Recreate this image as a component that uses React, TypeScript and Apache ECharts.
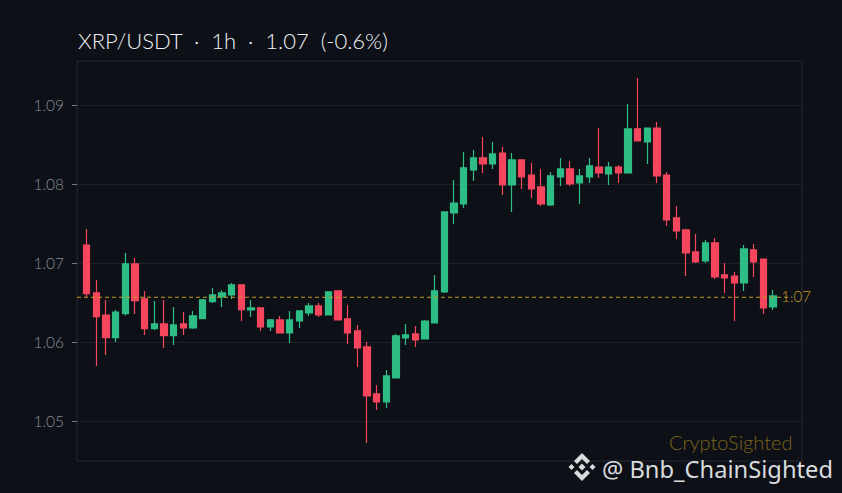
import React, { useEffect, useRef } from "react";
import * as echarts from "echarts";

// open, close, low, high — one row per hourly candle
const candles: number[][] = [
  [1.07231,1.06616,1.0657,1.07434],[1.06625,1.06325,1.05702,1.06789],[1.06346,1.06059,1.05841,1.06536],[1.06059,1.06384,1.06005,1.0641],
  [1.06363,1.06991,1.06338,1.0713],[1.06991,1.06527,1.06359,1.07067],[1.06549,1.06173,1.06094,1.0665],[1.06173,1.06233,1.06157,1.06523],
  [1.06233,1.06085,1.05929,1.06536],[1.06085,1.0622,1.05967,1.06448],[1.06233,1.06182,1.06094,1.06384],[1.06182,1.06334,1.06173,1.06397],
  [1.063,1.06536,1.06292,1.06549],[1.06515,1.06599,1.06498,1.06688],[1.06574,1.06625,1.06448,1.06662],[1.06599,1.06726,1.06549,1.06751],
  [1.06726,1.06413,1.0627,1.06726],[1.0641,1.06435,1.06321,1.06536],[1.06435,1.06195,1.06144,1.06435],[1.06195,1.06283,1.06144,1.06296],
  [1.06283,1.06119,1.06115,1.06334],[1.06119,1.06283,1.05992,1.06397],[1.0627,1.06397,1.06182,1.06397],[1.06372,1.0646,1.06334,1.06498],
  [1.0646,1.06346,1.06321,1.06498],[1.06346,1.06637,1.06338,1.06637],[1.0665,1.06283,1.06279,1.0665],[1.06296,1.06119,1.0598,1.06473],
  [1.06144,1.05929,1.05689,1.0622],[1.05942,1.05322,1.04728,1.06005],[1.05348,1.05247,1.05145,1.05461],[1.05247,1.05575,1.05171,1.05651],
  [1.0555,1.06081,1.0555,1.06106],[1.06056,1.06094,1.05967,1.06233],[1.06106,1.0603,1.05942,1.06207],[1.06043,1.0627,1.06039,1.06283],
  [1.06245,1.0665,1.06241,1.06852],[1.06637,1.07649,1.06625,1.07649],[1.07636,1.07762,1.07497,1.08053],[1.0775,1.08205,1.07699,1.08407],
  [1.08179,1.08331,1.0804,1.08432],[1.08331,1.08255,1.08142,1.08597],[1.08255,1.08382,1.08192,1.08533],[1.08394,1.0799,1.07863,1.0847],
  [1.0799,1.08306,1.07649,1.08394],[1.08306,1.08091,1.07939,1.08306],[1.08116,1.07939,1.07825,1.08268],[1.07965,1.0775,1.07724,1.08192],
  [1.07737,1.08104,1.07724,1.08154],[1.08091,1.08192,1.07977,1.08331],[1.08192,1.08002,1.07977,1.08293],[1.08015,1.08104,1.0775,1.08192],
  [1.08091,1.0823,1.08015,1.08331],[1.08217,1.08142,1.08078,1.0871],[1.08129,1.08217,1.0799,1.08281],[1.08217,1.08142,1.08015,1.08243],
  [1.08142,1.08698,1.08142,1.09014],[1.08698,1.08546,1.08546,1.09343],[1.08533,1.0871,1.08255,1.0871],[1.0871,1.08104,1.08015,1.08786],
  [1.08116,1.07547,1.07472,1.08154],[1.07573,1.07408,1.07307,1.07724],[1.07421,1.0713,1.06839,1.07434],[1.07143,1.07016,1.07004,1.0737],
  [1.07029,1.07257,1.07004,1.07295],[1.07257,1.06827,1.06801,1.0732],[1.06852,1.06814,1.06625,1.07004],[1.06839,1.06751,1.0627,1.0689],
  [1.06751,1.07181,1.0665,1.07231],[1.07168,1.07016,1.06827,1.07244],[1.07054,1.06435,1.06359,1.07054],[1.06448,1.06587,1.0641,1.06662],
];
const yTicks = [1.05, 1.06, 1.07, 1.08, 1.09];
const lastPrice = 1.0657;
const lastPriceLabel = "1.07";
const titleText = "XRP/USDT  ·  1h  ·  1.07  (-0.6%)";
const watermark = "CryptoSighted";
const credit = "@ Bnb_ChainSighted";

const BG = "#0d1017";
const UP = "#2ebd85";
const DOWN = "#f6465d";
const FONT = "Lato";

const LOGO =
  "M14 0L22 8L19 11L14 6L9 11L6 8Z M14 28L22 20L19 17L14 22L9 17L6 20Z " +
  "M0.5 14L3.5 11L6.5 14L3.5 17Z M27.5 14L24.5 11L21.5 14L24.5 17Z M14 10.5L17.5 14L14 17.5L10.5 14Z";
echarts.graphic.registerShape("bnbLogo", echarts.graphic.extendPath(LOGO, {}) as any);

export default function App() {
  const ref = useRef<HTMLDivElement>(null);
  useEffect(() => {
    document.body.style.margin = "0";
    document.body.style.background = BG;
    const chart = echarts.init(ref.current!, undefined, { renderer: "svg" });
    const blank = ["-", "-", "-", "-"];
    const slots = [blank, ...candles, blank, blank, blank];
    const categories = slots.map((_, i) => String(i));
    chart.setOption({
      animation: false,
      backgroundColor: BG,
      title: {
        text: titleText,
        left: 73,
        top: 24,
        textStyle: { color: "#f0f2f5", fontSize: 22, fontWeight: 300, fontFamily: FONT },
      },
      grid: { left: 77, right: 40, top: 61, bottom: 32, show: true, borderColor: "#252932", borderWidth: 1, backgroundColor: "transparent" },
      xAxis: {
        type: "category",
        data: categories,
        boundaryGap: false,
        axisLine: { show: false },
        axisTick: { show: false },
        axisLabel: { show: false },
        splitLine: { show: false },
      },
      yAxis: {
        type: "value",
        min: 1.045,
        max: 1.09557,
        scale: true,
        axisLine: { show: false },
        axisTick: { show: true, length: 5, lineStyle: { color: "#777b82", width: 1 }, customValues: yTicks },
        axisLabel: {
          customValues: yTicks,
          formatter: (v: number) => v.toFixed(2),
          color: "#8c8f95",
          fontSize: 15.5,
          fontWeight: 300,
          fontFamily: FONT,
          margin: 13,
        },
        splitLine: { show: true, lineStyle: { color: "#1c2027", width: 1 } },
      },
      series: [
        {
          type: "candlestick",
          data: slots,
          barWidth: 7,
          itemStyle: { color: UP, color0: DOWN, borderColor: UP, borderColor0: DOWN, borderWidth: 1.2 },
        },
        {
          type: "line",
          data: [["0", lastPrice], ["74", lastPrice]],
          showSymbol: false,
          symbol: "none",
          silent: true,
          lineStyle: { color: "#c49c22", type: [4, 3], width: 1.1 },
          itemStyle: { color: "#c49c22" },
          endLabel: {
            show: true,
            formatter: lastPriceLabel,
            distance: -11,
            offset: [0, -1],
            color: "#c09a24",
            fontSize: 15,
            fontWeight: 300,
            fontFamily: FONT,
          },
        },
      ],
      graphic: [
        { type: "text", left: 669, top: 432, style: { text: watermark, fill: "#7c6419", fontSize: 20, fontWeight: 300, fontFamily: FONT } },
        { type: "bnbLogo", x: 568, y: 453, style: { fill: "#d9dcdf" } },
        { type: "text", left: 602, top: 457, style: { text: credit, fill: "#d9dcdf", fontSize: 23.7, fontFamily: "Noto Sans" } },
      ],
    });
    return () => chart.dispose();
  }, []);
  return <div ref={ref} style={{ position: "absolute", left: 0, top: 0, width: 842, height: 493 }} />;
}
